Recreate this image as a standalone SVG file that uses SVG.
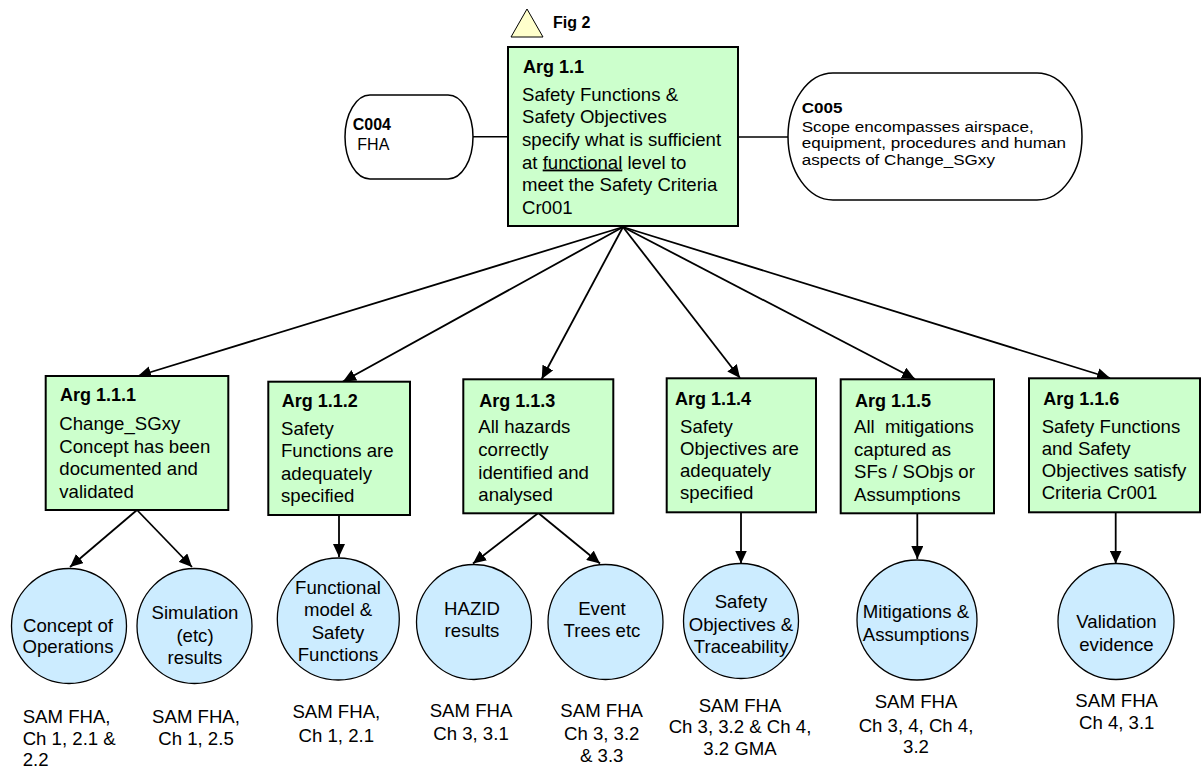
<svg xmlns="http://www.w3.org/2000/svg" width="1203" height="772" viewBox="0 0 1203 772">
  <defs>
    <style>
      text { font-family: "Liberation Sans", Arial, sans-serif; fill: #000; }
      .t { font-size: 18.6px; }
      .b { font-size: 18px; font-weight: bold; }
      .c { font-size: 16px; }
      .cb { font-size: 16px; font-weight: bold; }
      .s { font-size: 15.5px; }
      .sb { font-size: 15.5px; font-weight: bold; }
      .mid { text-anchor: middle; }
      .goal { fill: #CCFFCC; stroke: #000; stroke-width: 2; }
      .ctx { fill: #FFFFFF; stroke: #000; stroke-width: 1.5; }
      .sol { fill: #CCECFF; stroke: #000; stroke-width: 1.3; }
      .link { stroke: #000; stroke-width: 1.8; fill: none; }
      .plain { stroke: #000; stroke-width: 1.5; fill: none; }
    </style>
    <marker id="arrow" markerUnits="userSpaceOnUse" markerWidth="14" markerHeight="12" viewBox="0 0 14 12" refX="13" refY="6" orient="auto">
      <path d="M0,0 L13,6 L0,12 Z" fill="#000"/>
    </marker>
  </defs>

  <!-- connectors -->
  <g id="connectors">
    <line class="plain" x1="473" y1="136.7" x2="508" y2="136.7"/>
    <line class="plain" x1="738" y1="137" x2="788" y2="137"/>
    <line class="link" x1="623" y1="227" x2="138" y2="376" marker-end="url(#arrow)"/>
    <line class="link" x1="623" y1="227" x2="343" y2="381.5" marker-end="url(#arrow)"/>
    <line class="link" x1="623" y1="227" x2="541.7" y2="379" marker-end="url(#arrow)"/>
    <line class="link" x1="623" y1="227" x2="740" y2="378" marker-end="url(#arrow)"/>
    <line class="link" x1="623" y1="227" x2="915" y2="379" marker-end="url(#arrow)"/>
    <line class="link" x1="623" y1="227" x2="1110" y2="378" marker-end="url(#arrow)"/>
    <line class="link" x1="137" y1="510" x2="70" y2="567" marker-end="url(#arrow)"/>
    <line class="link" x1="137" y1="510" x2="192" y2="567" marker-end="url(#arrow)"/>
    <line class="link" x1="339" y1="515" x2="339" y2="557" marker-end="url(#arrow)"/>
    <line class="link" x1="538.3" y1="513" x2="473" y2="563.5" marker-end="url(#arrow)"/>
    <line class="link" x1="538.3" y1="513" x2="600" y2="563.5" marker-end="url(#arrow)"/>
    <line class="link" x1="741" y1="512" x2="741" y2="563.5" marker-end="url(#arrow)"/>
    <line class="link" x1="917.3" y1="513" x2="917.3" y2="559" marker-end="url(#arrow)"/>
    <line class="link" x1="1115.7" y1="512" x2="1115.7" y2="563.5" marker-end="url(#arrow)"/>
  </g>

  <!-- away-goal marker -->
  <g id="fig2">
    <polygon points="527,9 543,37 511,37" fill="#FFFFCC" stroke="#000" stroke-width="1"/>
    <text class="cb" x="553" y="28">Fig 2</text>
  </g>

  <g id="arg-1-1">
    <rect class="goal" x="508" y="47" width="230" height="179"/>
    <text class="b" x="523" y="73">Arg 1.1</text>
    <text class="t" x="522" y="100.7">
      <tspan x="522">Safety Functions &amp;</tspan>
      <tspan x="522" dy="22.6">Safety Objectives</tspan>
      <tspan x="522" dy="22.6">specify what is sufficient</tspan>
      <tspan x="522" dy="22.6">at <tspan text-decoration="underline">functional</tspan> level to</tspan>
      <tspan x="522" dy="22.6">meet the Safety Criteria</tspan>
      <tspan x="522" dy="22.6">Cr001</tspan>
    </text>
  </g>

  <g id="c004">
    <rect class="ctx" x="345" y="95" width="128" height="84" rx="25" ry="42"/>
    <text class="cb" x="352.7" y="130">C004</text>
    <text class="c" x="357.3" y="150">FHA</text>
  </g>

  <g id="c005">
    <rect class="ctx" x="788" y="73" width="294" height="127" rx="45" ry="63.5"/>
    <!-- wide lettering: text set narrow and stretched horizontally -->
    <g transform="translate(801.7 0) scale(1.1 1)">
      <text class="sb" x="0" y="113">C005</text>
      <text class="s" x="0" y="132">
        <tspan x="0">Scope encompasses airspace,</tspan>
        <tspan x="0" dy="16.3">equipment, procedures and human</tspan>
        <tspan x="0" dy="16.3">aspects of Change_SGxy</tspan>
      </text>
    </g>
  </g>

  <g id="arg-1-1-1">
    <rect class="goal" x="45.7" y="376" width="182.6" height="134"/>
    <text class="b" x="60" y="400.7">Arg 1.1.1</text>
    <text class="t" x="59.3" y="430">
      <tspan x="59.3">Change_SGxy</tspan>
      <tspan x="59.3" dy="22.6">Concept has been</tspan>
      <tspan x="59.3" dy="22.6">documented and</tspan>
      <tspan x="59.3" dy="22.6">validated</tspan>
    </text>
  </g>

  <g id="arg-1-1-2">
    <rect class="goal" x="268.3" y="381.7" width="141.7" height="133.3"/>
    <text class="b" x="281.7" y="406.7">Arg 1.1.2</text>
    <text class="t" x="281" y="435">
      <tspan x="281">Safety</tspan>
      <tspan x="281" dy="22.4">Functions are</tspan>
      <tspan x="281" dy="22.4">adequately</tspan>
      <tspan x="281" dy="22.4">specified</tspan>
    </text>
  </g>

  <g id="arg-1-1-3">
    <rect class="goal" x="463.3" y="379.3" width="150" height="134"/>
    <text class="b" x="479.3" y="406.7">Arg 1.1.3</text>
    <text class="t" x="478.3" y="433.3">
      <tspan x="478.3">All hazards</tspan>
      <tspan x="478.3" dy="22.6">correctly</tspan>
      <tspan x="478.3" dy="22.6">identified and</tspan>
      <tspan x="478.3" dy="22.6">analysed</tspan>
    </text>
  </g>

  <g id="arg-1-1-4">
    <rect class="goal" x="666.7" y="378.3" width="149.3" height="134"/>
    <text class="b" x="675" y="405">Arg 1.1.4</text>
    <text class="t" x="680" y="432.7">
      <tspan x="680">Safety</tspan>
      <tspan x="680" dy="22.2">Objectives are</tspan>
      <tspan x="680" dy="22.2">adequately</tspan>
      <tspan x="680" dy="22.2">specified</tspan>
    </text>
  </g>

  <g id="arg-1-1-5">
    <rect class="goal" x="840.7" y="379.3" width="153.3" height="134"/>
    <text class="b" x="855" y="406.7">Arg 1.1.5</text>
    <text class="t" x="854" y="433.3" xml:space="preserve"><tspan x="854">All  mitigations</tspan><tspan x="854" dy="22.5">captured as</tspan><tspan x="854" dy="22.5">SFs / SObjs or</tspan><tspan x="854" dy="22.5">Assumptions</tspan></text>
  </g>

  <g id="arg-1-1-6">
    <rect class="goal" x="1029" y="378.3" width="171" height="134"/>
    <text class="b" x="1043.3" y="405">Arg 1.1.6</text>
    <text class="t" x="1041.7" y="432.7">
      <tspan x="1041.7">Safety Functions</tspan>
      <tspan x="1041.7" dy="22.2">and Safety</tspan>
      <tspan x="1041.7" dy="22.2">Objectives satisfy</tspan>
      <tspan x="1041.7" dy="22.2">Criteria Cr001</tspan>
    </text>
  </g>

  <!-- evidence items -->
  <g id="sol-concept">
    <circle class="sol" cx="69" cy="626" r="57.5"/>
    <text class="t mid" y="631.5"><tspan x="68">Concept of</tspan><tspan x="68" dy="21.5">Operations</tspan></text>
  </g>
  <g id="sol-simulation">
    <circle class="sol" cx="194.5" cy="626" r="57.5"/>
    <text class="t mid" y="619.3"><tspan x="195">Simulation</tspan><tspan x="195" dy="22.5">(etc)</tspan><tspan x="195" dy="22.5">results</tspan></text>
  </g>
  <g id="sol-functional">
    <circle class="sol" cx="338.3" cy="619" r="61"/>
    <text class="t mid" y="593.5"><tspan x="338">Functional</tspan><tspan x="338" dy="22.5">model &amp;</tspan><tspan x="338" dy="22.5">Safety</tspan><tspan x="338" dy="22.5">Functions</tspan></text>
  </g>
  <g id="sol-hazid">
    <circle class="sol" cx="474" cy="622" r="57.5"/>
    <text class="t mid" y="615"><tspan x="472">HAZID</tspan><tspan x="472" dy="22.3">results</tspan></text>
  </g>
  <g id="sol-events">
    <circle class="sol" cx="605.5" cy="622" r="57.5"/>
    <text class="t mid" y="615"><tspan x="602">Event</tspan><tspan x="602" dy="22.3">Trees etc</tspan></text>
  </g>
  <g id="sol-objectives">
    <circle class="sol" cx="741" cy="621" r="57.5"/>
    <text class="t mid" y="608.3"><tspan x="741">Safety</tspan><tspan x="741" dy="22.2">Objectives &amp;</tspan><tspan x="741" dy="22.2">Traceability</tspan></text>
  </g>
  <g id="sol-mitigations">
    <circle class="sol" cx="917" cy="620" r="60"/>
    <text class="t mid" y="618.3"><tspan x="916">Mitigations &amp;</tspan><tspan x="916" dy="22.4">Assumptions</tspan></text>
  </g>
  <g id="sol-validation">
    <circle class="sol" cx="1116" cy="621.5" r="58"/>
    <text class="t mid" y="628.3"><tspan x="1116.5">Validation</tspan><tspan x="1116.5" dy="22.4">evidence</tspan></text>
  </g>

  <!-- document references -->
  <g id="ref-concept">
    <text class="t" y="723.3"><tspan x="22.7">SAM FHA,</tspan><tspan x="22.7" dy="21.7">Ch 1, 2.1 &amp;</tspan><tspan x="22.7" dy="20.5">2.2</tspan></text>
  </g>
  <g id="ref-simulation">
    <text class="t mid" y="723.3"><tspan x="196">SAM FHA,</tspan><tspan x="196" dy="21.7">Ch 1, 2.5</tspan></text>
  </g>
  <g id="ref-functional">
    <text class="t mid" y="718.3"><tspan x="336.3">SAM FHA,</tspan><tspan x="336.3" dy="23.4">Ch 1, 2.1</tspan></text>
  </g>
  <g id="ref-hazid">
    <text class="t mid" y="716.7"><tspan x="471">SAM FHA</tspan><tspan x="471" dy="23.3">Ch 3, 3.1</tspan></text>
  </g>
  <g id="ref-events">
    <text class="t mid" y="716.7"><tspan x="601.7">SAM FHA</tspan><tspan x="601.7" dy="23.3">Ch 3, 3.2</tspan><tspan x="601.7" dy="21.7">&amp; 3.3</tspan></text>
  </g>
  <g id="ref-objectives">
    <text class="t mid" y="711.7"><tspan x="740">SAM FHA</tspan><tspan x="740" dy="21.7">Ch 3, 3.2 &amp; Ch 4,</tspan><tspan x="740" dy="21.7">3.2 GMA</tspan></text>
  </g>
  <g id="ref-mitigations">
    <text class="t mid" y="708.3"><tspan x="916">SAM FHA</tspan><tspan x="916" dy="23.4">Ch 3, 4, Ch 4,</tspan><tspan x="916" dy="21.6">3.2</tspan></text>
  </g>
  <g id="ref-validation">
    <text class="t mid" y="706.7"><tspan x="1116.7">SAM FHA</tspan><tspan x="1116.7" dy="22.6">Ch 4, 3.1</tspan></text>
  </g>
</svg>
